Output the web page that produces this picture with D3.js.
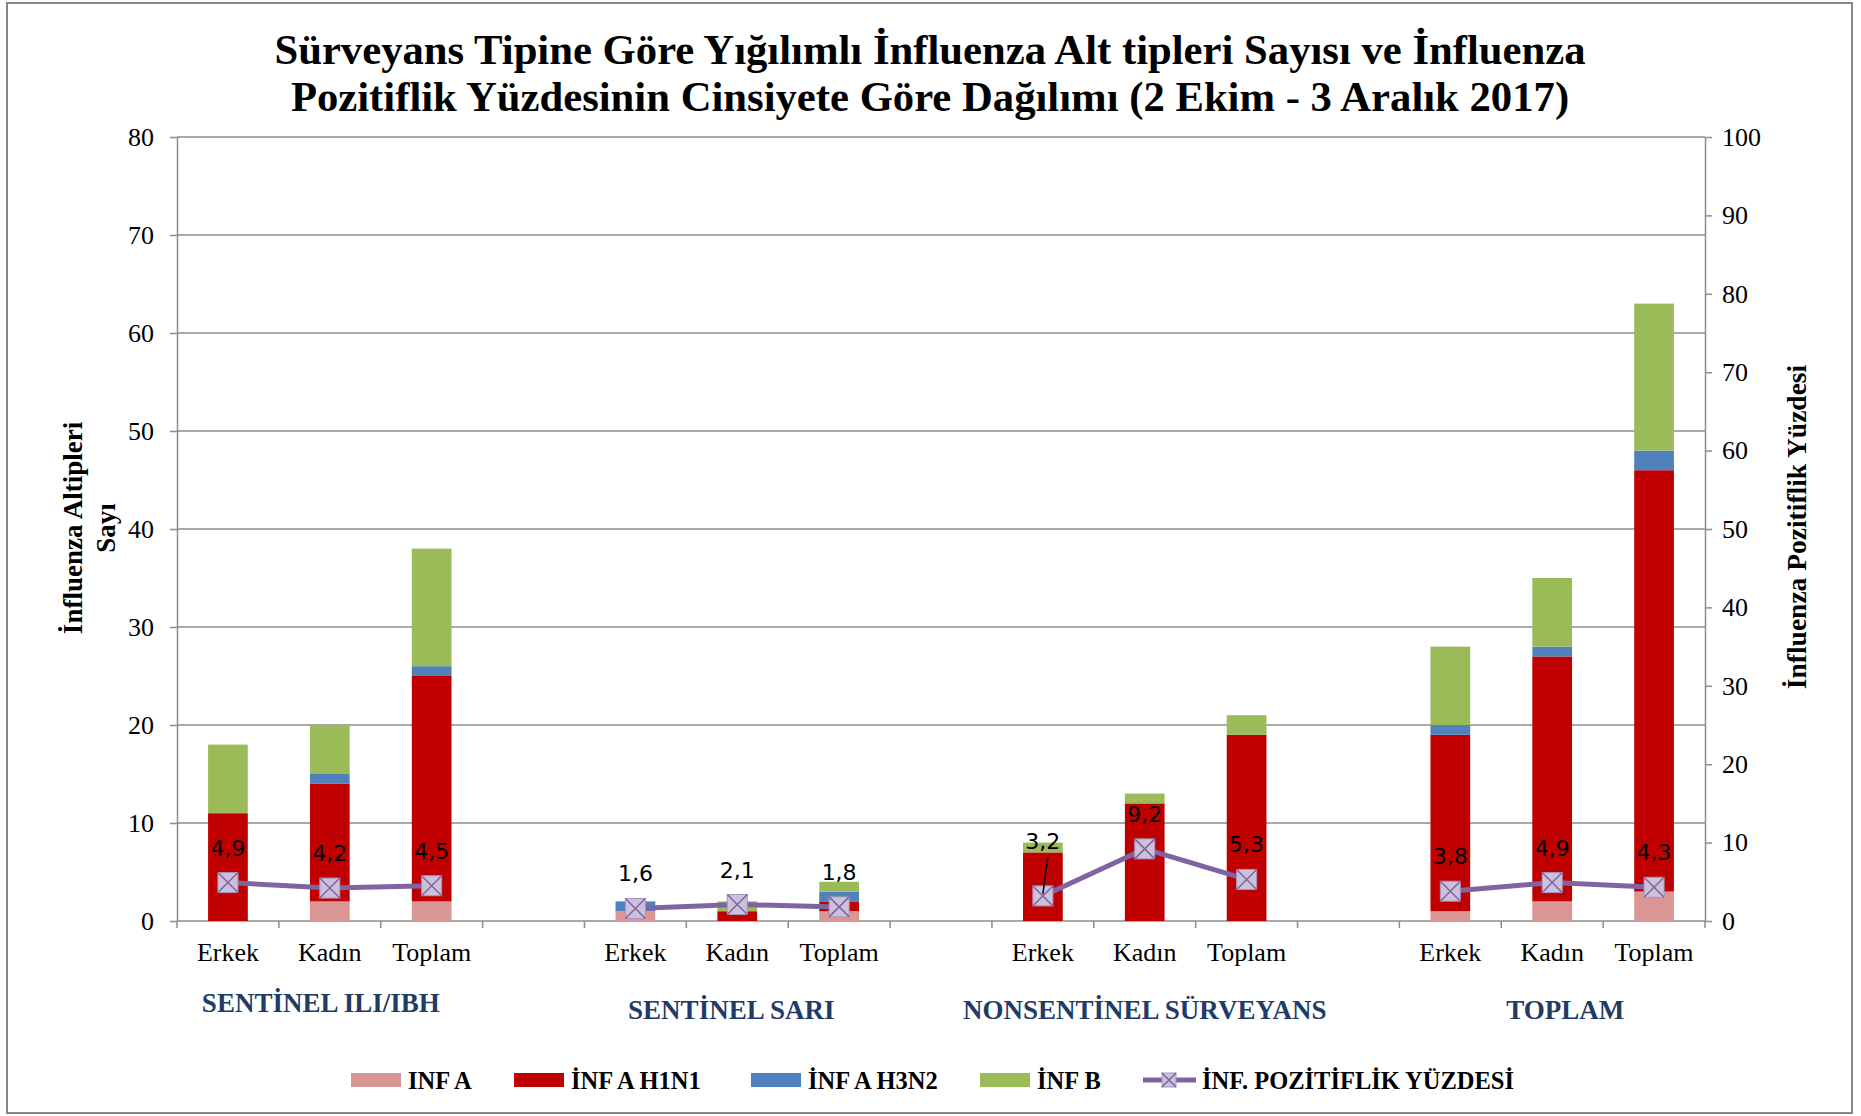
<!DOCTYPE html>
<html>
<head>
<meta charset="utf-8">
<script src="https://cdn.jsdelivr.net/npm/d3@7"></script>
<style>
  body { margin: 0; background: #fff; }
  svg { display: block; }
</style>
</head>
<body>
<div id="chart"></div>
<script>
// Data
const groups = ["SENTİNEL ILI/IBH", "SENTİNEL SARI", "NONSENTİNEL SÜRVEYANS", "TOPLAM"];
const sexes = ["Erkek", "Kadın", "Toplam"];
const infA = [0, 2, 2, 1, 0, 1, 0, 0, 0, 1, 2, 3];
const infH1N1 = [11, 12, 23, 0, 1, 1, 7, 12, 19, 18, 25, 43];
const infH3N2 = [0, 1, 1, 1, 0, 1, 0, 0, 0, 1, 1, 2];
const infB = [7, 5, 12, 0, 1, 1, 1, 1, 2, 8, 7, 15];
const pozitiflik = [4.9, 4.2, 4.5, 1.6, 2.1, 1.8, 3.2, 9.2, 5.3, 3.8, 4.9, 4.3];
const leftTicks = [0, 10, 20, 30, 40, 50, 60, 70, 80];
const rightTicks = [0, 10, 20, 30, 40, 50, 60, 70, 80, 90, 100];

const seriesNames = ["INF A", "İNF A H1N1", "İNF A H3N2", "İNF B"];
const seriesColors = ["#d99694", "#c00000", "#4f81bd", "#9bbb59"];
const LINE_COLOR = "#8064a2";
const MARKER_FILL = "#ccc1da";
const GRID = "#8c8c8c";
const SERIF = "'Liberation Serif', 'Times New Roman', serif";

const W = 1861, H = 1116;
const margin = { top: 137, right: 156, bottom: 195, left: 177 };
const width = W - margin.left - margin.right;
const height = H - margin.top - margin.bottom;

const svg = d3.select("#chart").append("svg")
    .attr("width", W)
    .attr("height", H);

// chart border
svg.append("rect")
    .attr("x", 7).attr("y", 3)
    .attr("width", 1845).attr("height", 1110)
    .attr("fill", "#fff")
    .attr("stroke", "#868686")
    .attr("stroke-width", 2);

// Category slots, with an empty slot between groups
const rows = [];
const slots = [];
groups.forEach(function(g, gi) {
    sexes.forEach(function(s, si) {
        const i = gi * 3 + si;
        const key = "g" + gi + "-" + si;
        slots.push(key);
        rows.push({ key: key, group: g, sex: s, vals: [infA[i], infH1N1[i], infH3N2[i], infB[i]], pct: pozitiflik[i], idx: i });
    });
    if (gi < groups.length - 1) slots.push("gap" + gi);
});

const x = d3.scaleBand().domain(slots).range([0, width]).paddingInner(0.61).paddingOuter(0.305);
const y = d3.scaleLinear().domain([0, 80]).range([height, 0]);
const y2 = d3.scaleLinear().domain([0, 100]).range([height, 0]);

const g = svg.append("g").attr("transform", "translate(" + margin.left + "," + margin.top + ")");

// Gridlines
g.append("g").selectAll("line")
    .data(leftTicks.filter(d => d > 0))
    .join("line")
    .attr("x1", 0).attr("x2", width)
    .attr("y1", d => y(d)).attr("y2", d => y(d))
    .attr("stroke", GRID).attr("stroke-width", 1.5);

// Left axis
const axL = g.append("g")
    .call(d3.axisLeft(y).tickValues(leftTicks).tickSizeInner(7).tickSizeOuter(0).tickPadding(16));
axL.select(".domain").attr("stroke", GRID).attr("stroke-width", 1.5);
axL.selectAll(".tick line").attr("stroke", GRID).attr("stroke-width", 1.5);
axL.selectAll("text").attr("font-family", SERIF).attr("font-size", 26).attr("fill", "#000");

// Right axis
const axR = g.append("g").attr("transform", "translate(" + width + ",0)")
    .call(d3.axisRight(y2).tickValues(rightTicks).tickSizeInner(7).tickSizeOuter(0).tickPadding(10));
axR.select(".domain").attr("stroke", GRID).attr("stroke-width", 1.5);
axR.selectAll(".tick line").attr("stroke", GRID).attr("stroke-width", 1.5);
axR.selectAll("text").attr("font-family", SERIF).attr("font-size", 26).attr("fill", "#000");

// Bottom axis line and ticks at slot boundaries
g.append("line")
    .attr("x1", 0).attr("x2", width)
    .attr("y1", height).attr("y2", height)
    .attr("stroke", GRID).attr("stroke-width", 1.5);
const step = x.step();
g.append("g").selectAll("line")
    .data(d3.range(slots.length + 1))
    .join("line")
    .attr("x1", d => d * step).attr("x2", d => d * step)
    .attr("y1", height).attr("y2", height + 7)
    .attr("stroke", GRID).attr("stroke-width", 1.5);

// Stacked bars
const stackData = rows.map(r => ({ key: r.key, s0: r.vals[0], s1: r.vals[1], s2: r.vals[2], s3: r.vals[3] }));
const stacked = d3.stack().keys(["s0", "s1", "s2", "s3"])(stackData);

g.append("g").selectAll("g")
    .data(stacked)
    .join("g")
    .attr("fill", (d, i) => seriesColors[i])
    .selectAll("rect")
    .data(d => d)
    .join("rect")
    .attr("x", d => x(d.data.key))
    .attr("width", x.bandwidth())
    .attr("y", d => y(d[1]))
    .attr("height", d => y(d[0]) - y(d[1]));

// Category labels
g.append("g").selectAll("text")
    .data(rows)
    .join("text")
    .attr("x", d => x(d.key) + x.bandwidth() / 2)
    .attr("y", height + 40)
    .attr("text-anchor", "middle")
    .attr("font-family", SERIF)
    .attr("font-size", 26)
    .text(d => d.sex);

// Group labels (small horizontal nudges as in the original)
const groupNudge = [-9, -6, 0, 13];
g.append("g").selectAll("text")
    .data(groups)
    .join("text")
    .attr("x", (d, i) => x("g" + i + "-1") + x.bandwidth() / 2 + groupNudge[i])
    .attr("y", (d, i) => i === 0 ? height + 91 : height + 98)
    .attr("text-anchor", "middle")
    .attr("font-family", SERIF)
    .attr("font-weight", "bold")
    .attr("font-size", 27)
    .attr("fill", "#1f3b66")
    .text(d => d);

// Percentage line, one segment per group
const line = d3.line()
    .x(d => x(d.key) + x.bandwidth() / 2)
    .y(d => y2(d.pct));

g.append("g").selectAll("path")
    .data(groups.map((gName, gi) => rows.filter(r => r.group === gName)))
    .join("path")
    .attr("d", line)
    .attr("fill", "none")
    .attr("stroke", LINE_COLOR)
    .attr("stroke-width", 5);

// Markers
const ms = 10;
const markers = g.append("g").selectAll("g")
    .data(rows)
    .join("g")
    .attr("transform", d => "translate(" + (x(d.key) + x.bandwidth() / 2) + "," + y2(d.pct) + ")");
markers.append("rect")
    .attr("x", -ms).attr("y", -ms)
    .attr("width", ms * 2).attr("height", ms * 2)
    .attr("fill", MARKER_FILL)
    .attr("stroke", "#a795c0")
    .attr("stroke-width", 1);
markers.append("path")
    .attr("d", "M" + (-ms) + "," + (-ms) + "L" + ms + "," + ms + "M" + ms + "," + (-ms) + "L" + (-ms) + "," + ms)
    .attr("stroke", LINE_COLOR)
    .attr("stroke-width", 1.5);

// Percentage value labels (the 3,2 label is pulled up with a leader line)
const labelLift = d => d.idx === 6 ? 55 : 35;
g.append("g").selectAll("line")
    .data(rows.filter(d => d.idx === 6))
    .join("line")
    .attr("x1", d => x(d.key) + x.bandwidth() / 2 + 5)
    .attr("y1", d => y2(d.pct) - 39)
    .attr("x2", d => x(d.key) + x.bandwidth() / 2)
    .attr("y2", d => y2(d.pct) - 2)
    .attr("stroke", "#000")
    .attr("stroke-width", 1.5);

g.append("g").selectAll("text")
    .data(rows)
    .join("text")
    .attr("x", d => x(d.key) + x.bandwidth() / 2)
    .attr("y", d => y2(d.pct) - labelLift(d) + 8)
    .attr("text-anchor", "middle")
    .attr("font-family", "'DejaVu Sans', sans-serif")
    .attr("font-size", 22)
    .attr("fill", "#000")
    .text(d => d3.format(".1f")(d.pct).replace(".", ","));

// Axis titles
svg.append("text")
    .attr("transform", "translate(82,528) rotate(-90)")
    .attr("text-anchor", "middle")
    .attr("font-family", SERIF)
    .attr("font-weight", "bold")
    .attr("font-size", 27)
    .text("İnfluenza Altipleri");
svg.append("text")
    .attr("transform", "translate(115,528) rotate(-90)")
    .attr("text-anchor", "middle")
    .attr("font-family", SERIF)
    .attr("font-weight", "bold")
    .attr("font-size", 27)
    .text("Sayı");
svg.append("text")
    .attr("transform", "translate(1806,527) rotate(-90)")
    .attr("text-anchor", "middle")
    .attr("font-family", SERIF)
    .attr("font-weight", "bold")
    .attr("font-size", 27.5)
    .text("İnfluenza Pozitiflik Yüzdesi");

// Title
const title = svg.append("text")
    .attr("text-anchor", "middle")
    .attr("font-family", SERIF)
    .attr("font-weight", "bold")
    .attr("font-size", 42.7);
title.append("tspan").attr("x", 930).attr("y", 64)
    .text("Sürveyans Tipine Göre Yığılımlı İnfluenza Alt tipleri Sayısı ve İnfluenza");
title.append("tspan").attr("x", 930).attr("y", 111)
    .text("Pozitiflik Yüzdesinin Cinsiyete Göre Dağılımı (2 Ekim - 3 Aralık 2017)");

// Legend
const legendX = [351, 514, 751, 980];
const legend = svg.append("g");
seriesNames.forEach(function(name, i) {
    legend.append("rect")
        .attr("x", legendX[i]).attr("y", 1073)
        .attr("width", 50).attr("height", 14)
        .attr("fill", seriesColors[i]);
    legend.append("text")
        .attr("x", legendX[i] + 57).attr("y", 1089)
        .attr("font-family", SERIF)
        .attr("font-weight", "bold")
        .attr("font-size", 24.5)
        .text(name);
});
legend.append("line")
    .attr("x1", 1143).attr("x2", 1196)
    .attr("y1", 1080).attr("y2", 1080)
    .attr("stroke", LINE_COLOR).attr("stroke-width", 5);
legend.append("rect")
    .attr("x", 1162).attr("y", 1073).attr("width", 14).attr("height", 14)
    .attr("fill", MARKER_FILL).attr("stroke", "#a795c0");
legend.append("path")
    .attr("d", "M1162,1073L1176,1087M1176,1073L1162,1087")
    .attr("stroke", LINE_COLOR).attr("stroke-width", 1.5);
legend.append("text")
    .attr("x", 1202).attr("y", 1089)
    .attr("font-family", SERIF)
    .attr("font-weight", "bold")
    .attr("font-size", 24.5)
    .text("İNF. POZİTİFLİK YÜZDESİ");
</script>
</body>
</html>
